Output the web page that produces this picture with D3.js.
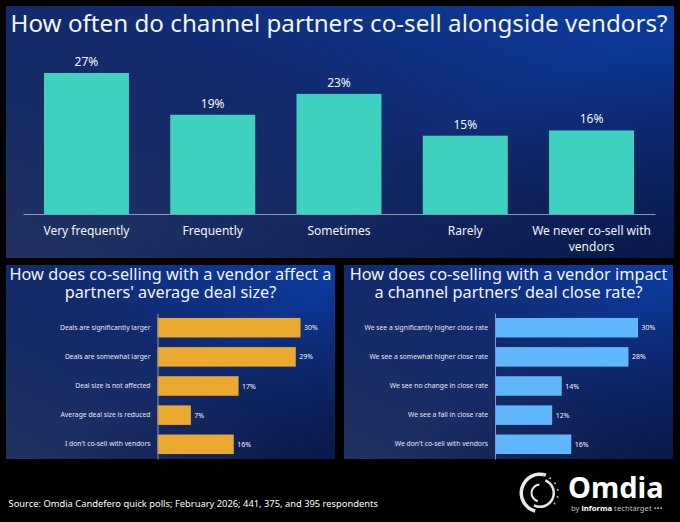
<!DOCTYPE html>
<meta charset="utf-8">
<style>
  html, body { margin: 0; background: #000; }
  svg { display: block; }
  text { font-family: "Noto Sans", sans-serif; fill: #f2f5fa; }
  .domain { stroke: #8b97b5; }
</style>
<script src="https://d3js.org/d3.v7.min.js"></script>
<div id="chart"></div>
<script>

// top chart
var oftenCategories = ["Very frequently", "Frequently", "Sometimes", "Rarely", "We never co-sell with vendors"];
var oftenValues = [27, 19, 23, 15, 16];

// bottom left chart
var dealSizeCategories = ["Deals are significantly larger", "Deals are somewhat larger", "Deal size is not affected", "Average deal size is reduced", "I don't co-sell with vendors"];
var dealSizeValues = [30, 29, 17, 7, 16];

// bottom right chart
var closeRateCategories = ["We see a significantly higher close rate", "We see a somewhat higher close rate", "We see no change in close rate", "We see a fall in close rate", "We don't co-sell with vendors"];
var closeRateValues = [30, 28, 14, 12, 16];

var svg = d3.select("#chart").append("svg")
    .attr("width", 680)
    .attr("height", 522);

var defs = svg.append("defs");

// panel background: washed navy on the left, stronger blue top right
function panelGradient(id) {
  var g = defs.append("linearGradient").attr("id", id)
      .attr("x1", "0").attr("y1", "1").attr("x2", "1").attr("y2", "0");
  g.append("stop").attr("offset", "0%").attr("stop-color", "#213260");
  g.append("stop").attr("offset", "50%").attr("stop-color", "#12296a");
  g.append("stop").attr("offset", "100%").attr("stop-color", "#0a3ca3");
  var v = defs.append("linearGradient").attr("id", id + "-shade")
      .attr("x1", "0").attr("y1", "0").attr("x2", "1").attr("y2", "1");
  v.append("stop").attr("offset", "55%").attr("stop-color", "#06133f").attr("stop-opacity", 0);
  v.append("stop").attr("offset", "100%").attr("stop-color", "#06133f").attr("stop-opacity", 0.75);
}
panelGradient("panel");

function panel(x, y, w, h) {
  svg.append("rect").attr("x", x).attr("y", y).attr("width", w).attr("height", h).attr("fill", "url(#panel)");
  svg.append("rect").attr("x", x).attr("y", y).attr("width", w).attr("height", h).attr("fill", "url(#panel-shade)");
}

function wrap(sel, width) {
  sel.each(function () {
    var t = d3.select(this), words = t.text().split(" "), line = [];
    var cur = t.text(null).append("tspan").attr("x", 0).attr("dy", 0);
    var dy = +t.attr("dy-line");
    words.forEach(function (w) {
      line.push(w);
      cur.text(line.join(" "));
      if (cur.node().getComputedTextLength() > width && line.length > 1) {
        line.pop();
        cur.text(line.join(" "));
        line = [w];
        cur = t.append("tspan").attr("x", 0).attr("dy", dy).text(w);
      }
    });
  });
}

// top column chart
panel(6, 6, 668, 252);

svg.append("text").attr("x", 339).attr("y", 32)
    .attr("text-anchor", "middle")
    .style("font-size", "24.2px")
    .text("How often do channel partners co-sell alongside vendors?");

var x = d3.scaleBand()
    .domain(oftenCategories)
    .range([23, 655])
    .paddingInner(0.327)
    .paddingOuter(0.166);

var y = d3.scaleLinear()
    .domain([0, 27])
    .range([214, 73]);

svg.selectAll(".col")
    .data(oftenValues)
    .enter()
    .append("rect")
      .attr("class", "col")
      .attr("x", function (d, i) { return x(oftenCategories[i]); })
      .attr("y", function (d) { return y(d); })
      .attr("width", x.bandwidth())
      .attr("height", function (d) { return y(0) - y(d); })
      .attr("fill", "#3ed1bf");

svg.selectAll(".colLabel")
    .data(oftenValues)
    .enter()
    .append("text")
      .attr("class", "colLabel")
      .attr("x", function (d, i) { return x(oftenCategories[i]) + x.bandwidth() / 2; })
      .attr("y", function (d) { return y(d) - 7; })
      .attr("text-anchor", "middle")
      .style("font-size", "12px")
      .text(function (d) { return d + "%"; });

var xAxis = svg.append("g")
    .attr("transform", "translate(0,214)")
    .call(d3.axisBottom(x).tickSize(0).tickPadding(0));
xAxis.selectAll("text")
    .attr("y", 20.5)
    .attr("dy", 0)
    .attr("dy-line", 16)
    .style("font-size", "12px")
    .style("fill", "#f2f5fa")
    .call(wrap, 130);

// horizontal bar charts at the bottom
function barPanel(px, axisX, title, categories, values, color) {
  panel(px, 265, 329, 194);

  title.forEach(function (line, i) {
    svg.append("text").attr("x", px + 164.5).attr("y", 280 + i * 18)
        .attr("text-anchor", "middle")
        .style("font-size", "16.3px")
        .text(line);
  });

  var bx = d3.scaleLinear().domain([0, 30]).range([axisX, axisX + 143]);
  var by = d3.scaleBand()
      .domain(categories)
      .range([313, 459])
      .paddingInner(0.33)
      .paddingOuter(0.17);

  svg.append("g").selectAll("rect")
      .data(values)
      .enter()
      .append("rect")
        .attr("x", bx(0))
        .attr("y", function (d, i) { return by(categories[i]); })
        .attr("width", function (d) { return bx(d) - bx(0); })
        .attr("height", by.bandwidth())
        .attr("fill", color);

  svg.append("g").selectAll("text")
      .data(values)
      .enter()
      .append("text")
        .attr("x", function (d) { return bx(d) + 3.5; })
        .attr("y", function (d, i) { return by(categories[i]) + by.bandwidth() / 2 + 2.5; })
        .style("font-size", "7px")
        .text(function (d) { return d + "%"; });

  var a = svg.append("g")
      .attr("transform", "translate(" + axisX + ",0)")
      .call(d3.axisLeft(by).tickSize(0).tickPadding(7));
  a.selectAll("text")
      .style("font-size", "6.8px")
      .style("fill", "#e4e9f4");
}

barPanel(6, 157.5, ["How does co-selling with a vendor affect a", "partners' average deal size?"],
    dealSizeCategories, dealSizeValues, "#eca92f");
barPanel(344, 495, ["How does co-selling with a vendor impact", "a channel partners\u2019 deal close rate?"],
    closeRateCategories, closeRateValues, "#5fb6fb");

// source line
svg.append("text").attr("x", 8.5).attr("y", 506.5)
    .style("font-size", "9.35px")
    .style("fill", "#fff")
    .text("Source: Omdia Candefero quick polls; February 2026; 441, 375, and 395 respondents");

// logo
var logo = svg.append("g").attr("transform", "translate(540,493)");
var arc = d3.arc();
[[17, 20.5, 3.4, 6.6], [12.5, 15, 0.4, 3.6], [7.5, 9.5, 3.4, 6.2]].forEach(function (r) {
  logo.append("path")
      .attr("d", arc({innerRadius: r[0], outerRadius: r[1], startAngle: r[2], endAngle: r[3]}))
      .attr("fill", "#e8e8e8");
});
d3.range(0.2, 2.6, 0.4).forEach(function (a) {
  logo.append("circle")
      .attr("cx", 18 * Math.sin(a))
      .attr("cy", -18 * Math.cos(a))
      .attr("r", 1)
      .attr("fill", "#bbb");
});

svg.append("text").attr("x", 568).attr("y", 498)
    .style("font-size", "29px")
    .style("font-weight", 700)
    .style("fill", "#fff")
    .text("Omdia");

var sub = svg.append("text").attr("x", 571).attr("y", 510.5)
    .style("font-size", "7.7px")
    .style("fill", "#bdbdbd");
sub.append("tspan").text("by ");
sub.append("tspan").style("font-weight", 700).style("fill", "#fff").text("informa");
sub.append("tspan").text(" techtarget \u2022\u2022\u2022");

</script>
